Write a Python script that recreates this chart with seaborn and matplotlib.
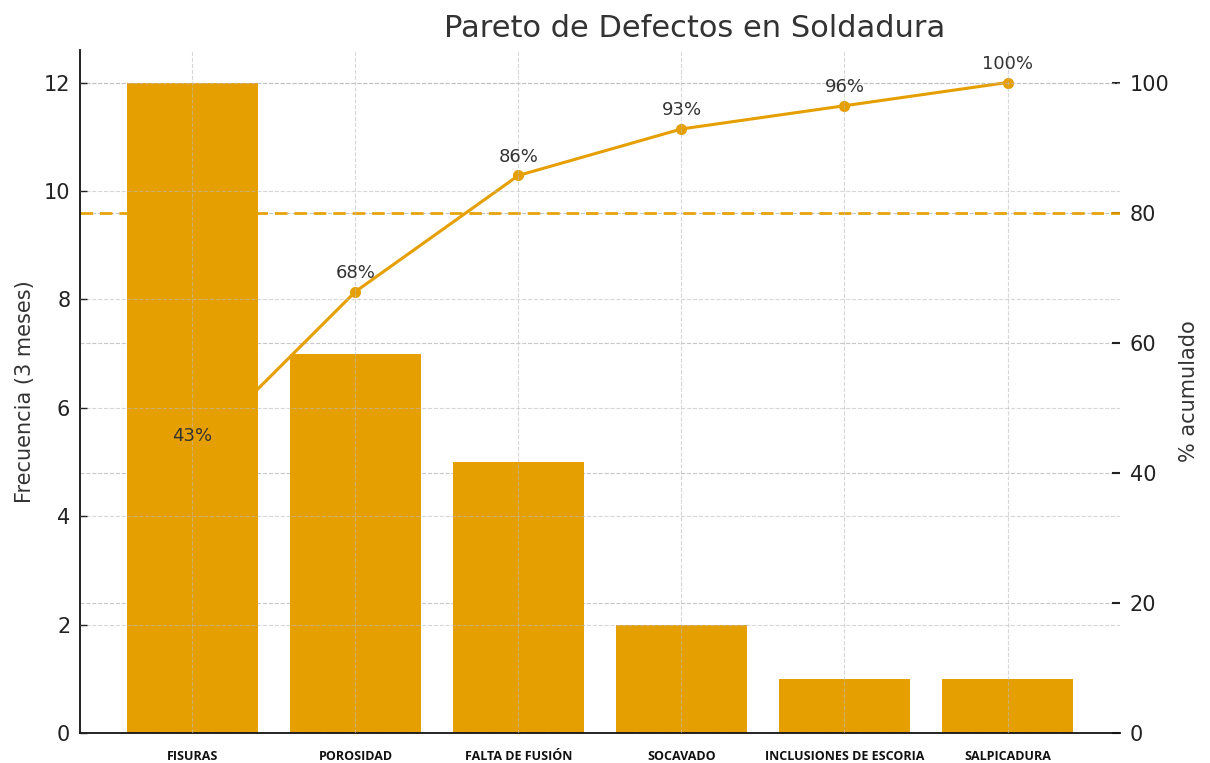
import numpy as np
import pandas as pd
import matplotlib
matplotlib.use("Agg")
import matplotlib.pyplot as plt
import seaborn as sns

# Defect categories and their counts over three months
defectos = ["FISURAS", "POROSIDAD", "FALTA DE FUSIÓN", "SOCAVADO",
            "INCLUSIONES DE ESCORIA", "SALPICADURA"]
frecuencia = [12, 7, 5, 2, 1, 1]
umbral_pct = 80

sns.set_theme(style="white")
plt.rcParams["font.family"] = ["DejaVu Sans"]

naranja = "#E69F00"
texto = "#333333"

df = pd.DataFrame({"defecto": defectos, "frecuencia": frecuencia})
df["acumulado"] = df["frecuencia"].cumsum() / df["frecuencia"].sum() * 100

fig = plt.figure(figsize=(12.1, 7.63), dpi=100)
ax1 = fig.add_axes([0.0661, 0.0393, 0.8595, 0.8952])
ax2 = ax1.twinx()

# Cumulative line sits behind the bars
ax2.set_zorder(ax1.get_zorder() - 1)
ax1.patch.set_visible(False)
ax2.patch.set_facecolor("white")

sns.barplot(data=df, x="defecto", y="frecuencia", color=naranja,
            saturation=1, width=0.8, linewidth=0, edgecolor=naranja,
            ax=ax1, zorder=1)
ax1.set_ylim(0, 12.6)

pos = np.arange(len(defectos))
sns.lineplot(x=pos, y=df["acumulado"].values, ax=ax2, color=naranja,
             marker="o", markersize=8, markeredgewidth=0, linewidth=2.2)
ax2.set_ylim(0, 105)
ax2.set_yticks([0, 20, 40, 60, 80, 100])

# 80% reference line
ax1.axhline(12 * umbral_pct / 100, color=naranja, linestyle="--",
            linewidth=2, dashes=(4.5, 2.5), zorder=2, alpha=0.95)

# Grid
ax1.set_axisbelow(False)
ax1.grid(True, linestyle="--", color="#bdbdbd", linewidth=0.8, alpha=0.6)
ax2.grid(True, axis="y", linestyle="--", color="#c8c8c8", linewidth=0.8)

# Cumulative percentage labels
for x, v in zip(pos, df["acumulado"].values):
    ax1.annotate(f"{v:.0f}%", xy=(x, v), xycoords=ax2.transData,
                 xytext=(0, 7), textcoords="offset points",
                 ha="center", va="bottom", fontsize=13, color=texto,
                 zorder=5)

ax1.set_title("Pareto de Defectos en Soldadura", fontsize=22,
              color=texto, pad=9, x=0.591)
ax1.set_xlabel("")
ax1.set_ylabel("Frecuencia (3 meses)", fontsize=15, color=texto,
               labelpad=6)
ax2.set_ylabel("% acumulado", fontsize=15, color=texto, labelpad=7)

ax1.set_xticks(pos)
ax1.set_xticklabels(defectos, fontsize=9, fontweight="bold",
                    family="Open Sans", color="#111111")
ax1.tick_params(axis="x", direction="in", length=5, width=1,
                color="#222222", pad=12)
ax1.tick_params(axis="y", direction="in", length=5, width=1,
                color="#222222", labelsize=15, labelcolor="#222222", pad=7)
ax2.tick_params(axis="y", direction="in", length=6, width=1.5,
                color="#222222", labelsize=15, labelcolor="#222222", pad=7)

for ax in (ax1, ax2):
    ax.spines["top"].set_visible(False)
    ax.spines["right"].set_visible(False)
ax2.spines["left"].set_visible(False)
ax2.spines["bottom"].set_visible(False)
ax1.spines["left"].set_color("#111111")
ax1.spines["bottom"].set_color("#111111")
ax1.spines["left"].set_linewidth(1.3)
ax1.spines["bottom"].set_linewidth(1.3)

fig.savefig("out.png", dpi=100, facecolor="white")
